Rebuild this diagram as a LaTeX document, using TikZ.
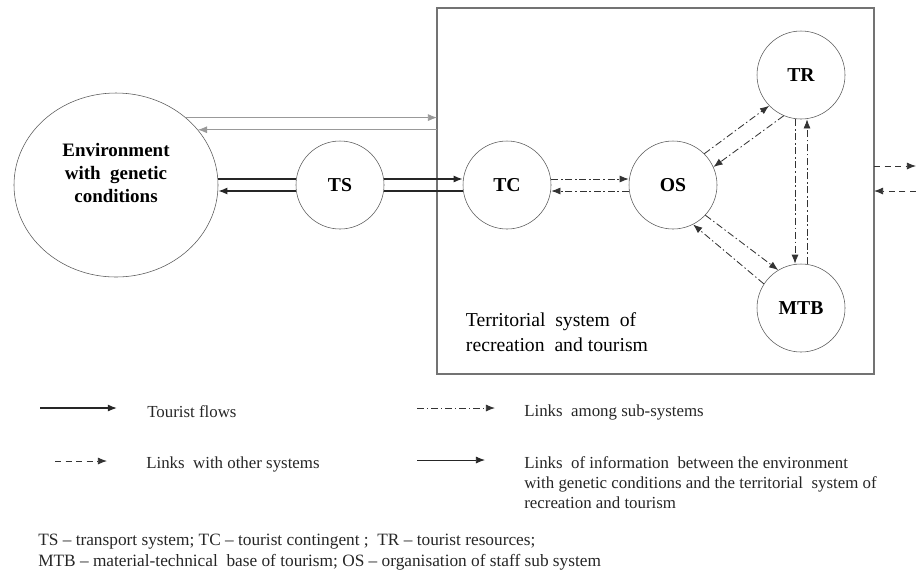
\documentclass[tikz,border=0pt]{standalone}
\usepackage{fontspec}
\setmainfont{Liberation Serif}
\usetikzlibrary{positioning}
\usetikzlibrary{arrows.meta,shapes.geometric}

\tikzset{
  sub/.style={circle,draw=black!65,thin,minimum size=2.2cm,inner sep=0pt,
    font=\fontsize{14}{16}\selectfont\bfseries},
  flow/.style={black!85,line width=0.9pt},
  info/.style={black!40,line width=0.6pt},
  among/.style={black!80,line width=0.6pt,dash pattern=on 5pt off 2pt on 1pt off 2pt},
  other/.style={black!80,line width=0.6pt,dash pattern=on 4.5pt off 3pt},
  legend/.style={anchor=west,inner sep=0pt,align=left,text=black!85,
    font=\fontsize{12}{14.2}\selectfont}
}

\begin{document}
\begin{tikzpicture}[>={Latex[length=6.5pt,width=5pt]},node distance=4.15cm]
  \useasboundingbox (0,0) rectangle (22.9,-14.275);

  \node[draw=black!55,line width=0.8pt,minimum width=10.925cm,minimum height=9.15cm,
        outer sep=0pt] (trs) at (16.3875,-4.775) {};
  \node[ellipse,draw=black!65,thin,minimum width=5.1cm,minimum height=4.6cm] (env) at (2.9,-4.625) {};
  \node[align=center,font=\fontsize{13.5}{16.5}\selectfont\bfseries] (envtext)
        at ([yshift=.3cm]env.center) {Environment\\with\ \ genetic\\conditions};
  \node[sub] (TS)  [right of=env,node distance=5.6cm]  {TS};
  \node[sub] (TC)  [right of=TS,node distance=4.175cm] {TC};
  \node[sub] (OS)  [right of=TC]                       {OS};
  \node[sub] (TR)  at (20.025,-1.875)                  {TR};
  \node[sub] (MTB) [below of=TR,node distance=5.825cm] {MTB};
  \node[anchor=west,align=left,font=\fontsize{14}{17.5}\selectfont] (trstext)
        at (11.525,-8.31) {Territorial\ \ system\ \ of\\recreation\ \ and tourism};

  % information between environment and the system
  \draw[info,->] (env.44) -- (env.44 -| trs.west);
  \draw[info,->] (env.34 -| trs.west) -- (env.34);

  % tourist flows
  \draw[flow]    ([yshift=.15cm]env.east) -- ([yshift=.15cm]TS.west);
  \draw[flow,->] ([yshift=-.15cm]TS.west) -- ([yshift=-.15cm]env.east);
  \draw[flow,->] ([yshift=.15cm]TS.east) -- ([yshift=.15cm]TC.west);
  \draw[flow]    ([yshift=-.15cm]TC.west) -- ([yshift=-.15cm]TS.east);

  % links among sub-systems
  \draw[among,->] ([yshift=.15cm]TC.east) -- ([yshift=.15cm]OS.west);
  \draw[among,->] ([yshift=-.15cm]OS.west) -- ([yshift=-.15cm]TC.east);
  \draw[among,->] (OS.45) -- (TR.224);
  \draw[among,->] (TR.247) -- (OS.24);
  \draw[among,->] (OS.317) -- (MTB.121);
  \draw[among,->] (MTB.147) -- (OS.297);
  \draw[among,->] ([xshift=-.15cm]TR.south) -- ([xshift=-.15cm]MTB.north);
  \draw[among,->] ([xshift=.15cm]MTB.north) -- ([xshift=.15cm]TR.south);

  % links with other systems
  \coordinate (outA) at (22.9,-4.15);
  \coordinate (outB) at (22.9,-4.775);
  \draw[other,->] (trs.east |- outA) -- (outA);
  \draw[other,->] (outB) -- (trs.east);

  % legend
  \coordinate (flowA) at (1.0,-10.2);
  \coordinate (flowB) at (2.925,-10.2);
  \draw[flow,->] (flowA) -- (flowB);
  \node[legend] (flowtext) at (3.675,-10.3) {Tourist flows};

  \coordinate (otherA) at (1.375,-11.525);
  \coordinate (otherB) at (2.675,-11.525);
  \draw[other,->] (otherA) -- (otherB);
  \node[legend] (othertext) at (3.65,-11.6) {Links\ \ with other systems};

  \coordinate (amongA) at (10.425,-10.2);
  \coordinate (amongB) at (12.375,-10.2);
  \draw[among,->] (amongA) -- (amongB);
  \node[legend] (amongtext) at (13.1,-10.3) {Links\ \ among sub-systems};

  \coordinate (infoA) at (10.425,-11.5);
  \coordinate (infoB) at (12.125,-11.5);
  \draw[flow,line width=0.6pt,->] (infoA) -- (infoB);
  \node[legend,anchor=north west] (infotext) at (13.1,-11.4)
    {Links\ \ of information\ \ between the environment\\
     with genetic conditions and the territorial\ \ system of\\
     recreation and tourism};

  \node[legend,anchor=north west,font=\fontsize{12.3}{14.5}\selectfont] (abbr) at (0.95,-13.35)
    {TS -- transport system; TC -- tourist contingent ;\ \ TR -- tourist resources;\\
     MTB -- material-technical\ \ base of tourism; OS -- organisation of staff sub system};
\end{tikzpicture}
\end{document}
